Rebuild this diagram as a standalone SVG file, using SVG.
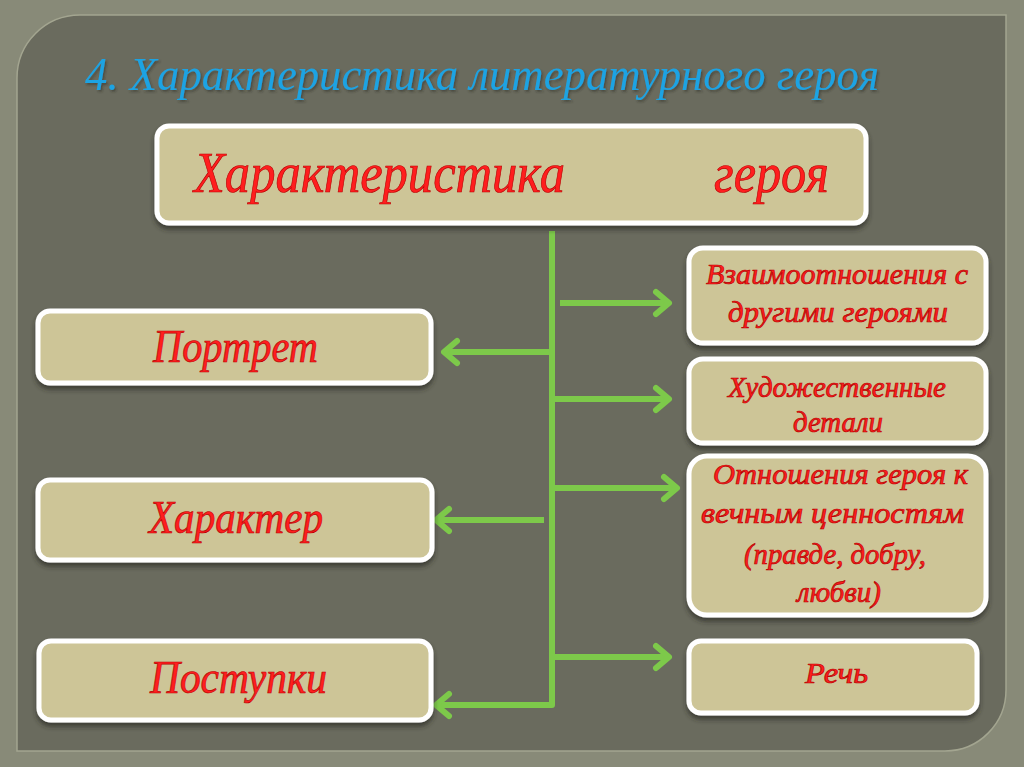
<svg xmlns="http://www.w3.org/2000/svg" width="1024" height="767" viewBox="0 0 1024 767">
  <defs>
    <style>
      .box { fill: #cdc597; stroke: #ffffff; stroke-width: 5; filter: url(#shadow); }
      .lbl { font-family: "Liberation Serif", "DejaVu Serif", serif; font-style: italic; fill: #ff1e1e; stroke: #b80000; stroke-width: 0.7; }
      .title { font-family: "Liberation Serif", "DejaVu Serif", serif; font-style: italic; fill: #1fa3e3; filter: url(#tshadow); }
      .conn { fill: none; stroke: #7dc94a; stroke-width: 6; stroke-linejoin: round; }
    </style>
    <filter id="shadow" x="-10%" y="-20%" width="120%" height="150%">
      <feDropShadow dx="0" dy="4" stdDeviation="2.5" flood-color="#2a2a22" flood-opacity="0.7"/>
    </filter>
    <filter id="tshadow" x="-5%" y="-20%" width="110%" height="150%">
      <feDropShadow dx="1.5" dy="2" stdDeviation="1" flood-color="#2a2a22" flood-opacity="0.5"/>
    </filter>
    <marker id="arr" markerUnits="userSpaceOnUse" markerWidth="30" markerHeight="30" viewBox="-16 -15 20 30" refX="0" refY="0" orient="auto">
      <path d="M-13,-11 L0,0 L-13,11" fill="none" stroke="#7dc94a" stroke-width="6" stroke-linecap="round" stroke-linejoin="round"/>
    </marker>
  </defs>

  <rect x="0" y="0" width="1024" height="767" fill="#888a78"/>
  <path d="M17,78 A63,63 0 0 1 80,15 L1006,15 L1006,690 A61,61 0 0 1 945,751 L17,751 Z" fill="#6a6b5e" stroke="#a3a590" stroke-width="1.5"/>

  <text class="title" x="85" y="90" font-size="46" textLength="794" lengthAdjust="spacingAndGlyphs">4. Характеристика литературного героя</text>

  <g id="connectors">
    <path class="conn" d="M552,231 L552,705 L436,705" marker-end="url(#arr)"/>
    <path class="conn" d="M552,352 L444,352" marker-end="url(#arr)"/>
    <path class="conn" d="M544,520 L436,520" marker-end="url(#arr)"/>
    <path class="conn" d="M560,303 L669,303" marker-end="url(#arr)"/>
    <path class="conn" d="M552,399 L669,399" marker-end="url(#arr)"/>
    <path class="conn" d="M552,488 L677,488" marker-end="url(#arr)"/>
    <path class="conn" d="M552,657 L669,657" marker-end="url(#arr)"/>
  </g>

  <g id="node-top">
    <rect class="box" x="157" y="126" width="709" height="97" rx="12"/>
    <text class="lbl" x="194" y="192" font-size="58" textLength="371" lengthAdjust="spacingAndGlyphs">Характеристика</text>
    <text class="lbl" x="714" y="192" font-size="58" textLength="115" lengthAdjust="spacingAndGlyphs">героя</text>
  </g>

  <g id="node-portret">
    <rect class="box" x="38" y="311" width="393" height="72" rx="12"/>
    <text class="lbl" x="153" y="362" font-size="46" textLength="165" lengthAdjust="spacingAndGlyphs">Портрет</text>
  </g>
  <g id="node-harakter">
    <rect class="box" x="38" y="480" width="394" height="80" rx="12"/>
    <text class="lbl" x="149" y="533" font-size="46" textLength="174" lengthAdjust="spacingAndGlyphs">Характер</text>
  </g>
  <g id="node-postupki">
    <rect class="box" x="39" y="641" width="392" height="79" rx="12"/>
    <text class="lbl" x="150" y="693" font-size="46" textLength="177" lengthAdjust="spacingAndGlyphs">Поступки</text>
  </g>

  <g id="node-vzaimo">
    <rect class="box" x="689" y="248" width="297" height="95" rx="14"/>
    <text class="lbl" x="706" y="284" font-size="29" textLength="262" lengthAdjust="spacingAndGlyphs">Взаимоотношения с</text>
    <text class="lbl" x="728" y="322" font-size="29" textLength="220" lengthAdjust="spacingAndGlyphs">другими героями</text>
  </g>
  <g id="node-detali">
    <rect class="box" x="689" y="359" width="297" height="84" rx="14"/>
    <text class="lbl" x="728" y="397" font-size="29" textLength="218" lengthAdjust="spacingAndGlyphs">Художественные</text>
    <text class="lbl" x="793" y="432" font-size="29" textLength="90" lengthAdjust="spacingAndGlyphs">детали</text>
  </g>
  <g id="node-otnosheniya">
    <rect class="box" x="689" y="456" width="297" height="159" rx="18"/>
    <text class="lbl" x="713" y="484" font-size="29" textLength="255" lengthAdjust="spacingAndGlyphs">Отношения героя к</text>
    <text class="lbl" x="701" y="523" font-size="29" textLength="263" lengthAdjust="spacingAndGlyphs">вечным ценностям</text>
    <text class="lbl" x="744" y="564" font-size="29" textLength="182" lengthAdjust="spacingAndGlyphs">(правде, добру,</text>
    <text class="lbl" x="797" y="602" font-size="29" textLength="84" lengthAdjust="spacingAndGlyphs">любви)</text>
  </g>
  <g id="node-rech">
    <rect class="box" x="689" y="641" width="288" height="72" rx="12"/>
    <text class="lbl" x="805" y="683" font-size="29" textLength="63" lengthAdjust="spacingAndGlyphs">Речь</text>
  </g>
</svg>
